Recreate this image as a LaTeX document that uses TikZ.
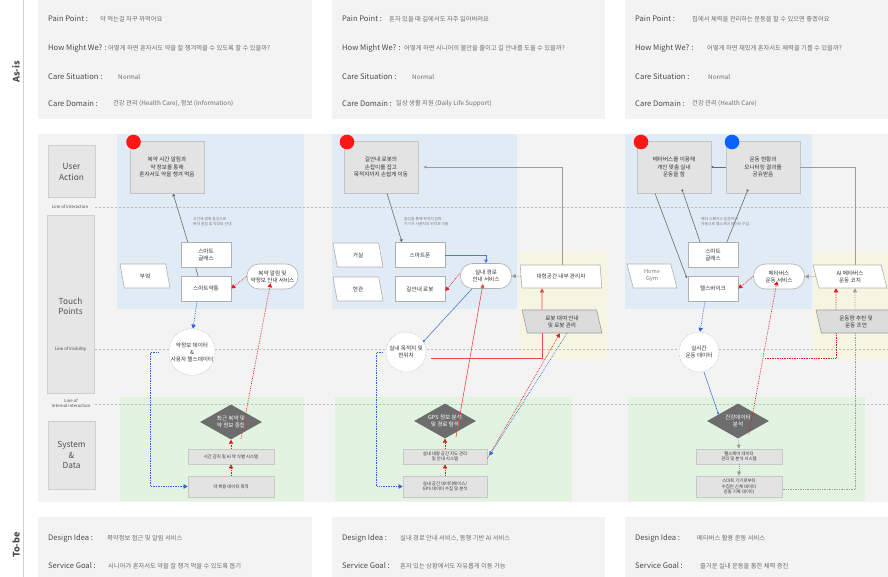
\documentclass[tikz,border=0pt]{standalone}
\usepackage{fontspec}
\setmainfont{Noto Sans CJK KR}
\usetikzlibrary{shapes.geometric,arrows.meta,calc}
\pgfdeclarelayer{panels}
\pgfdeclarelayer{lines}
\pgfsetlayers{panels,lines,main}
\newcommand{\fsz}[2]{\fontsize{#1}{#2}\selectfont}
\definecolor{panelc}{HTML}{F3F3F3}
\definecolor{bluereg}{HTML}{E1EBF5}
\definecolor{greenreg}{HTML}{E2F4E1}
\definecolor{yellowreg}{HTML}{F6F5E1}
\definecolor{lblc}{HTML}{4A4A4A}
\definecolor{handc}{HTML}{6E6E6E}
\definecolor{hdrline}{HTML}{CFCFCF}
\definecolor{hdrfill}{HTML}{E6E6E6}
\definecolor{hdrtext}{HTML}{505050}
\definecolor{ualine}{HTML}{C4C4C4}
\definecolor{uafill}{HTML}{E3E3E3}
\definecolor{darktext}{HTML}{333333}
\definecolor{tpline}{HTML}{B0B0B0}
\definecolor{circline}{HTML}{9A9A9A}
\definecolor{diafill}{HTML}{6D6D6D}
\definecolor{sysline}{HTML}{C8C8C8}
\definecolor{sysfill}{HTML}{E3E3E3}
\definecolor{annoc}{HTML}{7A7A7A}
\definecolor{redc}{HTML}{E31B1B}
\definecolor{bluec}{HTML}{2B62D6}
\definecolor{gline}{HTML}{6B6B6B}
\definecolor{glight}{HTML}{9C9C9C}
\definecolor{dotline}{HTML}{BDBDBD}
\definecolor{reddot}{HTML}{FF1717}
\definecolor{bluedot}{HTML}{0B62FF}
\definecolor{parafill}{HTML}{DCDCDC}
\tikzset{
  lbl/.style={anchor=west, font=\fsz{7.6}{9}, text=lblc, inner sep=0},
  hand/.style={anchor=west, font=\fsz{6.3}{8}, text=handc, inner sep=0},
  side/.style={rotate=90, font=\bfseries\fsz{9}{11}, text=lblc, inner sep=0},
  hdrbox/.style={draw=hdrline, fill=hdrfill, line width=1pt, font=\fsz{8.3}{10.5}, text=hdrtext, align=center, inner sep=0},
  linelbl/.style={font=\fsz{4.3}{5.2}, text=lblc, align=center, inner sep=0},
  uabox/.style={draw=ualine, fill=uafill, line width=0.8pt, minimum width=74pt, minimum height=52pt, align=center, font=\fsz{5.6}{7.2}, text=darktext, inner sep=0},
  tpbox/.style={draw=tpline, fill=white, line width=0.6pt, minimum width=50pt, minimum height=25pt, align=center, font=\fsz{5.6}{7}, text=darktext, inner sep=0},
  parabox/.style={trapezium, trapezium left angle=102, trapezium right angle=78, trapezium stretches=true, draw=tpline, fill=white, line width=0.6pt, minimum width=50pt, minimum height=24pt, align=center, font=\fsz{5.6}{7}, text=darktext, inner sep=0},
  pillbox/.style={rectangle, rounded corners=12pt, draw=tpline, fill=white, line width=0.6pt, minimum width=51pt, minimum height=25pt, align=center, font=\fsz{5.6}{7}, text=darktext, inner sep=0},
  circbox/.style={circle, draw=circline, densely dotted, fill=white, minimum size=40pt, inner sep=0, align=center, font=\fsz{5.6}{7}, text=darktext},
  diabox/.style={diamond, fill=diafill, text=white, aspect=1.75, minimum width=62pt, minimum height=35pt, inner sep=0, align=center, font=\fsz{5.6}{7}},
  sysbox/.style={draw=sysline, fill=sysfill, line width=0.8pt, minimum width=86pt, align=center, font=\fsz{4.4}{5.6}, text=darktext, inner sep=0},
  anno/.style={anchor=north west, align=left, font=\fsz{3.8}{5.6}, text=annoc, inner sep=0},
  marker/.style={circle, minimum size=14.6pt, inner sep=0},
  divline/.style={draw=dotline, line width=0.6pt, dash pattern=on 2pt off 2pt},
  garr/.style={draw=gline, line width=0.6pt, -{Triangle[length=3pt,width=3pt]}},
  gball/.style={draw=gline, line width=0.6pt, -{Circle[length=2.2pt]}},
  gsolid/.style={draw=glight, line width=0.9pt},
  gdots/.style={draw=glight, line width=0.7pt, densely dotted, -{Triangle[length=4pt,width=4pt]}},
  rdots/.style={draw=redc, line width=0.7pt, densely dotted, -{Triangle[length=4pt,width=4.4pt]}},
  rsolid/.style={draw=redc!80!white, line width=0.6pt, -{Triangle[length=4pt,width=4pt]}},
  bdots/.style={draw=bluec, line width=0.7pt, densely dotted, -{Triangle[length=4pt,width=4.4pt]}},
  bsolid/.style={draw=bluec!85!white, line width=0.6pt},
}
\begin{document}
\begin{tikzpicture}[x=1pt,y=-1pt]
\clip (0,0) rectangle (888,577);
% ---------------- panels ----------------
\begin{pgfonlayer}{panels}
\fill[white] (0,0) rectangle (888,577);
\fill[panelc] (38,0) rectangle (312,119);
\fill[panelc] (332,0) rectangle (605,119);
\fill[panelc] (625,0) rectangle (888,119);
\fill[panelc] (38,134) rectangle (888,502);
\fill[bluereg] (117,134) rectangle (304,309);
\fill[bluereg] (332,134) rectangle (517,309);
\fill[bluereg] (625,134) rectangle (812,309);
\fill[yellowreg] (520,252) rectangle (607,360);
\fill[yellowreg] (813,252) rectangle (888,360);
\fill[greenreg] (120,397) rectangle (304,501);
\fill[greenreg] (335,397) rectangle (572,501);
\fill[greenreg] (628,397) rectangle (865,501);
\fill[panelc] (38,517) rectangle (312,577);
\fill[panelc] (332,517) rectangle (605,577);
\fill[panelc] (625,517) rectangle (888,577);
\draw[draw=hdrline, line width=1pt] (23,0) -- (23,577);
\draw[divline] (95,207) -- (888,207);
\draw[divline] (95,349.5) -- (888,349.5);
\draw[divline] (95,404) -- (888,404);
\end{pgfonlayer}
% ---------------- side labels ----------------
\node[side] (asis) at (16,72) {As-is};
\node[side] (tobe) at (16,545) {To-be};
% ---------------- As-is texts ----------------
\node[lbl] (p1a) at (48,19) {Pain Point :};
\node[hand] (p1av) at (100,19) {약 먹는걸 자꾸 까먹어요};
\node[lbl] (p1b) at (48,48) {How Might We? :};
\node[hand] (p1bv) at (108,48) {어떻게 하면 혼자서도 약을 잘 챙겨먹을 수 있도록 할 수 있을까?};
\node[lbl] (p1c) at (48,77) {Care Situation :};
\node[hand] (p1cv) at (118,77) {Normal};
\node[lbl] (p1d) at (48,104) {Care Domain :};
\node[hand] (p1dv) at (113,104) {건강 관리 (Health Care), 정보 (Information)};

\node[lbl] (p2a) at (342,19) {Pain Point :};
\node[hand] (p2av) at (389,19) {혼자 있을 때 길에서도 자주 잃어버려요};
\node[lbl] (p2b) at (342,48) {How Might We? :};
\node[hand] (p2bv) at (404,48) {어떻게 하면 시니어의 불안을 줄이고 길 안내를 도울 수 있을까?};
\node[lbl] (p2c) at (342,77) {Care Situation :};
\node[hand] (p2cv) at (412,77) {Normal};
\node[lbl] (p2d) at (342,104) {Care Domain :};
\node[hand] (p2dv) at (396,104) {일상 생활 지원 (Daily Life Support)};

\node[lbl] (p3a) at (635,19) {Pain Point :};
\node[hand] (p3av) at (692,19) {집에서 체력을 관리하는 운동을 할 수 있으면 좋겠어요};
\node[lbl] (p3b) at (635,48) {How Might We? :};
\node[hand] (p3bv) at (707,48) {어떻게 하면 재밌게 혼자서도 체력을 기를 수 있을까?};
\node[lbl] (p3c) at (635,77) {Care Situation :};
\node[hand] (p3cv) at (708,77) {Normal};
\node[lbl] (p3d) at (635,104) {Care Domain :};
\node[hand] (p3dv) at (692,104) {건강 관리 (Health Care)};
% ---------------- To-be texts ----------------
\node[lbl] (t1a) at (48,538) {Design Idea :};
\node[hand] (t1av) at (107,538) {복약정보 접근 및 알림 서비스};
\node[lbl] (t1b) at (48,566) {Service Goal :};
\node[hand] (t1bv) at (108,566) {시니어가 혼자서도 약을 잘 챙겨 먹을 수 있도록 돕기};
\node[lbl] (t2a) at (342,538) {Design Idea :};
\node[hand] (t2av) at (400,538) {실내 경로 안내 서비스, 동행 기반 AI 서비스};
\node[lbl] (t2b) at (342,566) {Service Goal :};
\node[hand] (t2bv) at (400,566) {혼자 있는 상황에서도 자유롭게 이동 가능};
\node[lbl] (t3a) at (635,538) {Design Idea :};
\node[hand] (t3av) at (697,538) {메타버스 활용 운동 서비스};
\node[lbl] (t3b) at (635,566) {Service Goal :};
\node[hand] (t3bv) at (700,566) {즐거운 실내 운동을 통한 체력 증진};
% ---------------- row headers ----------------
\node[hdrbox, minimum width=47pt, minimum height=52pt] (hua) at (71.5,172) {User\\Action};
\node[hdrbox, minimum width=47pt, minimum height=177pt] (htp) at (70.5,304.5) {};
\node[font=\fsz{8.3}{10.5}, text=hdrtext, align=center, inner sep=0] (htpt) at (70.5,306) {Touch\\Points};
\node[hdrbox, minimum width=47pt, minimum height=68pt] (hsd) at (71.5,455) {System\\\&\\Data};
\node[linelbl] (loi) at (70,207) {Line of interaction};
\node[linelbl] (lov) at (70.5,349) {Line of Visibility};
\node[linelbl] (lii) at (71,403) {Line of\\Internal interaction};
% ================= Panel 1 =================
\node[uabox] (ua1) at (167,167) {복약 시간 알림과\\약 정보를 통해\\혼자서도 약을 챙겨 먹음};
\node[marker, fill=reddot] (m1) at (133.5,142) {};
\node[anno] (an1) at (193,217) {시간에 맞춰 음성으로\\복약 알림 및 약정보 안내};
\node[tpbox] (sg1) at (206,254.5) {스마트\\글래스};
\node[tpbox] (pill1) at (206,288.5) {스마트약통};
\node[parabox] (kit) at (145,276) {부엌};
\node[pillbox] (svc1) at (272.5,276.5) {복약 알림 및\\약정보 안내 서비스};
\node[circbox] (circ1) at (192,352) {약정보 데이터\\\&\\사용자 헬스데이터};
\node[diabox] (dia1) at (231,422) {최근 복약 및\\약 정보 종합};
\node[sysbox, minimum height=15pt] (sys1a) at (231,456.5) {시간 감지 및 AI 약 식별 시스템};
\node[sysbox, minimum height=21pt] (sys1b) at (231,486.5) {약 복용 데이터 축적};
\begin{pgfonlayer}{lines}
\draw[garr] ([xshift=-8]pill1.north) -- ([xshift=6]ua1.south);
\end{pgfonlayer}
\draw[rdots] (svc1.west) -- (pill1.east);
\draw[bdots] ([xshift=-9]pill1.south) -- ([xshift=1]circ1.north);
\draw[rdots] ([xshift=10,yshift=-17]dia1.center) -- ([xshift=-2,yshift=6]svc1.south);
\draw[bdots] ([xshift=-10]circ1.west) -- ++(-8,0) |- (sys1b.west);
\draw[rdots] (sys1a.north) -- (dia1.south);
\draw[rdots] (sys1b.north) -- (sys1a.south);
% ================= Panel 2 =================
\node[uabox] (ua2) at (381,167) {길안내 로봇의\\손잡이를 잡고\\목적지까지 손쉽게 이동};
\node[marker, fill=reddot] (m2) at (347,142) {};
\node[anno] (an2) at (404,217) {음성을 통해 목적지 입력\\기기가 사용자의 위치로 이동};
\node[parabox] (liv) at (358,255) {거실};
\node[parabox] (ent) at (358,289) {현관};
\node[tpbox] (sp) at (420,255) {스마트폰};
\node[tpbox] (robot) at (420,289) {길안내 로봇};
\node[pillbox] (svc2) at (486,276) {실내 경로\\안내 서비스};
\node[parabox, minimum width=82pt, minimum height=23pt] (mgr) at (561,276.5) {대형공간 내부 관리자};
\node[parabox, fill=parafill, draw=glight, minimum width=80pt, minimum height=23pt] (rent) at (562,321.5) {로봇 대여 안내\\및 로봇 관리};
\node[circbox] (circ2) at (406,352) {실내 목적지 및\\현위치};
\node[diabox] (dia2) at (445,421) {GPS 정보 분석\\및 경로 탐색};
\node[sysbox, minimum width=84pt, minimum height=15pt] (sys2a) at (445,456.5) {실내 대형 공간 지도 관리\\및 안내 시스템};
\node[sysbox, minimum width=84pt, minimum height=21pt] (sys2b) at (445,486.5) {실내 공간 데이터베이스/\\GPS 데이터 수집 및 분석};
\coordinate (j2) at (431,358);
\draw[garr] ([xshift=6]ua2.south) -- ([xshift=-18]sp.north);
\draw[bsolid, -{Triangle[length=3.5pt,width=3.5pt]}] (sp.east) -| (svc2.north);
\draw[rdots] ([yshift=3]svc2.west) -- ([yshift=-2]robot.east);
\draw[gdots] (mgr.west) -- (svc2.east);
\draw[gsolid, -{Triangle[length=3pt,width=3pt]}] ([xshift=1]mgr.north) |- ([xshift=5]ua2.east);
\draw[rsolid] ([xshift=-20]rent.north) -- ([xshift=-19]mgr.south);
\draw[draw=redc!80!white, line width=0.7pt] ([xshift=-20]rent.south) |- (j2);
\draw[bsolid, -{Circle[length=2.2pt]}] ([xshift=-14]svc2.south) -- ([xshift=3,yshift=-4]circ2.north east);
\draw[rsolid] ([xshift=11,yshift=-16]dia2.center) -- ([xshift=-3,yshift=5]svc2.south);
\draw[bdots] ([xshift=-3]circ2.west) -- ++(-6,0) |- (sys2b.west);
\draw[rdots] (sys2a.north) -- (dia2.south);
\draw[rdots] (sys2b.north) -- (sys2a.south);
\draw[rdots] ([yshift=-2]sys2a.east) -- ([xshift=-2]rent.south);
\draw[bdots] ([xshift=5]rent.south) -- ([xshift=2,yshift=1]sys2a.east);
% ================= Panel 3 =================
\node[uabox] (ua3a) at (674,167) {메타버스를 이용해\\개인 맞춤 실내\\운동을 함};
\node[uabox] (ua3b) at (763,167) {운동 현황과\\모니터링 결과를\\공유받음};
\node[marker, fill=reddot] (m3) at (641,142) {};
\node[marker, fill=bluedot] (m4) at (732,142) {};
\node[anno] (an3) at (701,217) {메타 스페이스 입장하여\\자동으로 헬스케어 데이터 수집};
\node[parabox, text=annoc] (gym) at (652,276) {Home\\Gym};
\node[tpbox] (sg3) at (713,254.5) {스마트\\글래스};
\node[tpbox] (bike) at (713,288.5) {헬스바이크};
\node[pillbox] (svc3) at (779,276.5) {메타버스\\운동 서비스};
\node[parabox, minimum width=74pt, minimum height=23pt] (coach) at (850,276.5) {AI 메타버스\\운동 코치};
\node[parabox, fill=parafill, draw=glight, minimum width=80pt, minimum height=23pt] (adv) at (856,321.5) {운동량 추천 및\\운동 조언};
\node[circbox] (circ3) at (699,352) {실시간\\운동 데이터};
\node[diabox] (dia3) at (738,421) {건강데이터\\분석};
\node[sysbox, minimum height=15pt] (sys3a) at (739,456.5) {헬스케어 데이터\\관리 및 분석 시스템};
\node[sysbox, minimum height=21pt] (sys3b) at (739,486.5) {스마트 기기로부터\\수집된 신체 데이터\\운동 기록 데이터};
\coordinate (j3) at (765,358);
\draw[gball] (ua3b.west) -- (ua3a.east);
\draw[gsolid] ([xshift=5]coach.north) |- (ua3b.east);
\draw[gball] ([xshift=-19]ua3a.south) -- ([xshift=-1,yshift=-2]bike.north west);
\draw[gball] ([xshift=-13]sg3.north) -- ([xshift=8,yshift=4]ua3a.south);
\draw[gball] ([xshift=14]sg3.north) -- ([xshift=-15,yshift=4]ua3b.south);
\draw[rdots] (svc3.west) -- (bike.east);
\draw[gdots] (coach.west) -- (svc3.east);
\draw[rdots] ([xshift=-20]adv.north) -- ([xshift=-14]coach.south);
\draw[gdots] ([xshift=-1]adv.north) -- ([xshift=5]coach.south);
\draw[rdots] ([xshift=11,yshift=-13]dia3.center) -- ([xshift=-2,yshift=8]svc3.south);
\draw[draw=redc, line width=0.7pt, densely dotted] ([xshift=-20]adv.south) |- (j3);
\draw[draw=glight, line width=0.7pt, densely dotted] ([xshift=-1]adv.south) |- ([yshift=-3]sys3b.east);
\draw[bdots] ([xshift=-8]bike.south) -- ([xshift=1]circ3.north);
\draw[bsolid, -{Circle[length=2.2pt]}] ([xshift=5]circ3.south) -- ([xshift=-4,yshift=-2]dia3.north west);
\draw[gdots] (dia3.south) -- (sys3a.north);
\draw[gdots] (sys3a.south) -- (sys3b.north);
\end{tikzpicture}
\end{document}
